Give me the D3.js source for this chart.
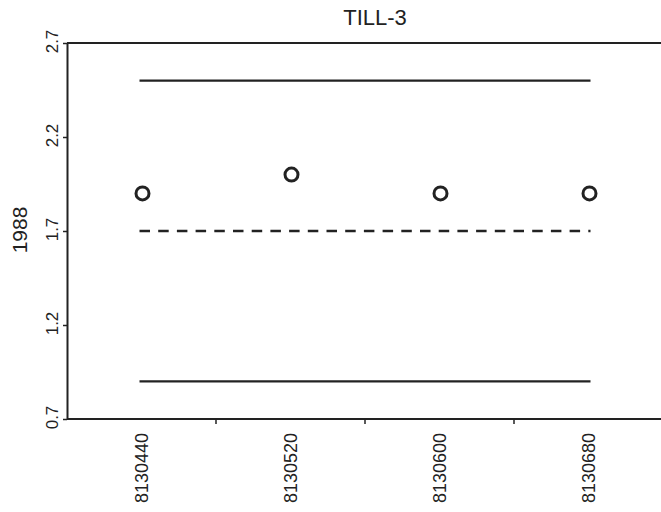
<!DOCTYPE html>
<html><head><meta charset="utf-8">
<script src="https://cdn.jsdelivr.net/npm/d3@7"></script>
<style>body{margin:0;background:#fff}svg{display:block}text{font-family:"Liberation Sans",Arial,sans-serif;fill:#222}</style>
</head><body>
<script>
const categories = ["8130440","8130520","8130600","8130680"];
const values = [1.9, 2.0, 1.9, 1.9];
const upperLimit = 2.5;
const lowerLimit = 0.9;
const meanLine = 1.7;
const yTicks = [0.7, 1.2, 1.7, 2.2, 2.7];
const title = "TILL-3";
const yLabel = "1988";

const W = 661, H = 512;
const svg = d3.select("body").append("svg").attr("width", W).attr("height", H);
const x = d3.scaleBand().domain(categories).range([67, 663]);
const y = d3.scaleLinear().domain([0.7, 2.7]).range([419, 43]);
const c = "#222";

// frame top line
svg.append("line").attr("x1", 67).attr("x2", W).attr("y1", y(2.7)).attr("y2", y(2.7))
  .attr("stroke", c).attr("stroke-width", 2);

// y axis
const ya = svg.append("g").attr("transform", "translate(67,0)").attr("font-size", 17)
  .call(d3.axisLeft(y).tickValues(yTicks).tickFormat(d3.format(".1f")).tickSize(4).tickSizeOuter(0));
ya.attr("font-size", 17).attr("font-family", "Liberation Sans, Arial, sans-serif");
ya.select(".domain").attr("stroke", c).attr("stroke-width", 2);
ya.selectAll(".tick line").attr("stroke", c).attr("stroke-width", 1.5);
ya.selectAll(".tick text").attr("transform", "rotate(-90)").attr("x", 2).attr("y", -9.5)
  .attr("dy", "0").attr("text-anchor", "middle").attr("fill", c);

// x axis
const xa = svg.append("g").attr("transform", "translate(0,419)")
  .call(d3.axisBottom(x).tickSize(0).tickSizeOuter(0));
xa.attr("font-size", 18).attr("font-family", "Liberation Sans, Arial, sans-serif");
xa.select(".domain").remove();
svg.append("line").attr("x1", 67).attr("x2", W).attr("y1", 419).attr("y2", 419)
  .attr("stroke", c).attr("stroke-width", 2);
// boundary ticks between bands
svg.selectAll(".xb").data(categories.slice(1)).enter().append("line")
  .attr("x1", d => x(d)).attr("x2", d => x(d)).attr("y1", 419).attr("y2", 424)
  .attr("stroke", c).attr("stroke-width", 1.5);
xa.selectAll(".tick text").attr("transform", "rotate(-90)").attr("x", -14).attr("y", 0)
  .attr("dy", "0.35em").attr("text-anchor", "end").attr("fill", c);

const xc = d => x(d) + x.bandwidth() / 2;
const x0 = xc(categories[0]), x1 = xc(categories[categories.length - 1]);

// limit lines
[[upperLimit, null], [lowerLimit, null], [meanLine, "10.5,8.2"]].forEach(([v, dash]) => {
  const l = svg.append("line").attr("x1", x0 - 2).attr("x2", x1 + 2).attr("y1", y(v)).attr("y2", y(v))
    .attr("stroke", c).attr("stroke-width", 2.4);
  if (dash) l.attr("stroke-dasharray", dash);
});

// points
svg.selectAll(".pt").data(values).enter().append("circle")
  .attr("cx", (d, i) => xc(categories[i]) + 1).attr("cy", d => y(d)).attr("r", 6.5)
  .attr("fill", "none").attr("stroke", c).attr("stroke-width", 3);

// title
svg.append("text").attr("x", 375).attr("y", 25).attr("text-anchor", "middle")
  .style("font-size", "22px").text(title);
// y label
svg.append("text").attr("transform", "translate(27,230) rotate(-90)").attr("text-anchor", "middle")
  .style("font-size", "21px").text(yLabel);
</script>
</body></html>
